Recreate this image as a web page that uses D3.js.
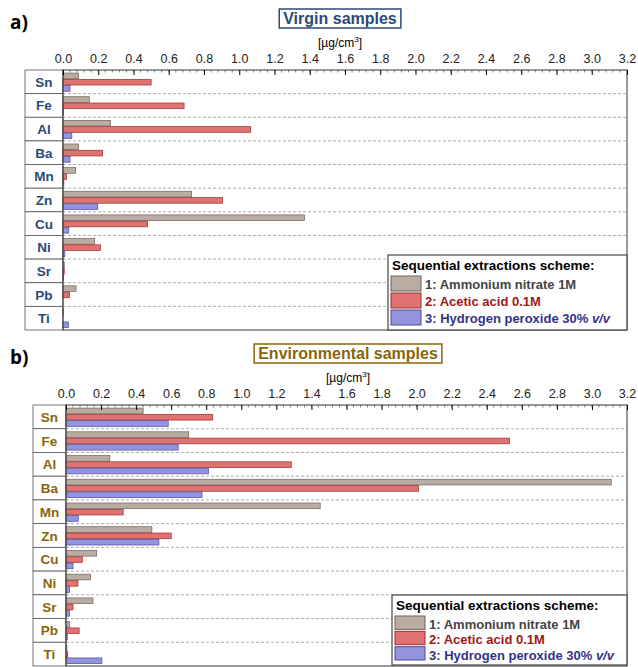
<!DOCTYPE html>
<html><head><meta charset="utf-8">
<script src="https://cdn.jsdelivr.net/npm/d3@7"></script>
<style>body{margin:0;background:#fff}svg{font-family:"Liberation Sans",Arial,sans-serif}</style>
</head><body><svg id="c" width="638" height="667"></svg>
<script>
const elements = ['Sn','Fe','Al','Ba','Mn','Zn','Cu','Ni','Sr','Pb','Ti'];
const seriesNames = ['1: Ammonium nitrate 1M','2: Acetic acid 0.1M','3: Hydrogen peroxide 30% '];
const virgin1 = [0.088,0.15,0.27,0.088,0.072,0.73,1.37,0.18,0.007,0.074,0.002];
const virgin2 = [0.50,0.687,1.065,0.225,0.02,0.905,0.48,0.213,0.007,0.037,0];
const virgin3 = [0.04,0.003,0.05,0.04,0.005,0.197,0.033,0.01,0.003,0,0.03];
const env1 = [0.44,0.70,0.25,3.11,1.45,0.49,0.175,0.14,0.154,0.02,0.005];
const env2 = [0.837,2.53,1.285,2.01,0.326,0.60,0.093,0.068,0.04,0.075,0.01];
const env3 = [0.583,0.64,0.813,0.776,0.07,0.53,0.04,0.02,0.02,0.007,0.205];
const ticks = d3.range(0, 3.21, 0.2);

const fills = ['#b8aca3','#e07272','#9494dc'];
const strokes = ['#6e625a','#9c2e2e','#4a4a9c'];
const textCols = ['#444','#a01818','#33338a'];
const svg = d3.select('#c');

function panel(o){
  const g = svg.append('g');
  g.append('text').attr('x',10).attr('y',o.top-41).attr('font-size',19).attr('font-weight','bold')
    .attr('font-family','"Open Sans",sans-serif').text(o.letter);
  const tt = g.append('text').attr('x',o.titleX).attr('y',o.top-46).attr('text-anchor','middle')
    .attr('font-size',16).attr('font-weight','bold').attr('fill',o.col).text(o.title);
  const bb = tt.node().getBBox();
  g.insert('rect','text').attr('x',bb.x-4).attr('y',bb.y-1).attr('width',bb.width+8).attr('height',bb.height+2)
    .attr('fill','none').attr('stroke',o.col).attr('stroke-width',1.5);
  const u = g.append('text').attr('x',o.titleX).attr('y',o.top-23).attr('text-anchor','middle').attr('font-size',12);
  u.append('tspan').text('[µg/cm');
  u.append('tspan').attr('dy',-5).attr('font-size',8).text('3');
  u.append('tspan').attr('dy',5).text(']');

  const x = d3.scaleLinear().domain([0,3.2]).range([o.x0,627]);
  const y = d3.scaleBand().domain(elements).range([o.top,o.bottom]);
  const rowH = y.bandwidth();
  elements.forEach(e=>{
    g.append('rect').attr('x',o.lx).attr('y',y(e)).attr('width',o.x0-o.lx).attr('height',rowH)
      .attr('fill','#fff').attr('stroke','#555').attr('stroke-width',0.8);
    g.append('text').attr('x',(o.lx+o.x0)/2).attr('y',y(e)+rowH/2+5).attr('text-anchor','middle')
      .attr('font-size',13.5).attr('font-weight','bold').attr('fill',o.col).text(e);
  });
  elements.slice(1).forEach(e=>{
    g.append('line').attr('x1',o.x0).attr('x2',627).attr('y1',y(e)).attr('y2',y(e))
      .attr('stroke','#999').attr('stroke-dasharray','3,2').attr('stroke-width',0.8);
  });
  const series = [o.s1,o.s2,o.s3];
  const bh = rowH*0.24;
  series.forEach((s,i)=>{
    g.selectAll(null).data(s).join('rect')
      .attr('x',x(0)).attr('y',(d,j)=>y(elements[j])+rowH*0.13+i*(bh+0.6))
      .attr('width',d=>x(d)-x(0)).attr('height',bh)
      .attr('fill',fills[i]).attr('stroke',strokes[i]).attr('stroke-width',0.7);
  });
  g.append('rect').attr('x',o.x0).attr('y',o.top).attr('width',627-o.x0).attr('height',o.bottom-o.top)
    .attr('fill','none').attr('stroke','#333').attr('stroke-width',1);
  const ax = g.append('g').attr('transform',`translate(0,${o.top})`)
    .call(d3.axisTop(x).tickValues(ticks).tickFormat(d3.format('.1f')).tickSize(-5));
  ax.select('.domain').remove();
  ax.selectAll('text').attr('font-size',12.5).attr('font-family','"Liberation Sans",sans-serif').attr('dy',-2).attr('y',-5).attr('fill','#222');
  g.selectAll(null).data(d3.range(0,3.2,0.04)).join('line')
    .attr('x1',d=>x(d)).attr('x2',d=>x(d)).attr('y1',o.top).attr('y2',o.top+2.5).attr('stroke','#333').attr('stroke-width',0.6);
  const L = g.append('g').attr('transform',`translate(${o.legX},${o.legY})`);
  L.append('rect').attr('width',627-o.legX).attr('height',o.legH).attr('fill','#fff').attr('stroke','#444').attr('stroke-width',1.2);
  L.append('text').attr('x',4).attr('y',15).attr('font-size',13.5).attr('font-weight','bold').text('Sequential extractions scheme:');
  seriesNames.forEach((n,i)=>{
    const yy = 21+i*(o.legH-24)/3;
    L.append('rect').attr('x',3).attr('y',yy).attr('width',30).attr('height',(o.legH-24)/3-2)
      .attr('fill',fills[i]).attr('stroke',strokes[i]);
    const t = L.append('text').attr('x',37).attr('y',yy+13).attr('font-size',13).attr('font-weight','bold').attr('fill',textCols[i]).text(n);
    if(i===2) t.append('tspan').attr('font-style','italic').text('v/v');
  });
}
panel({letter:'a)',title:'Virgin samples',col:'#2a4a78',titleX:340,top:70,bottom:330,x0:63,lx:25,s1:virgin1,s2:virgin2,s3:virgin3,legX:388,legY:255,legH:75});
panel({letter:'b)',title:'Environmental samples',col:'#8a6508',titleX:348,top:405,bottom:666,x0:66,lx:33,s1:env1,s2:env2,s3:env3,legX:392,legY:595,legH:70});
</script></body></html>
